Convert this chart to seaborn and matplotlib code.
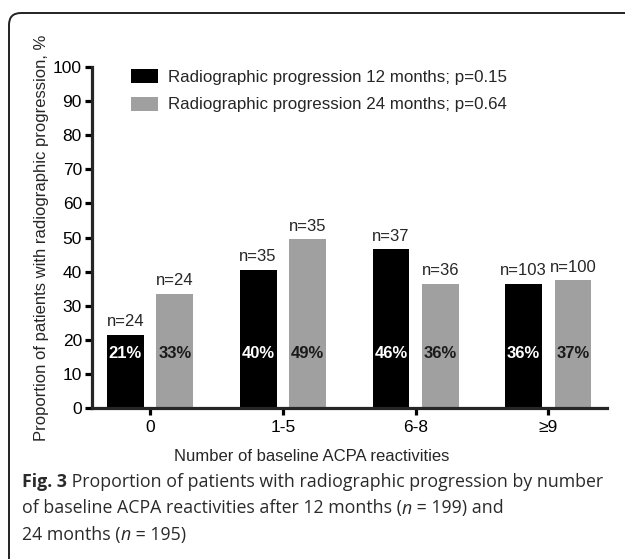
import matplotlib

matplotlib.use("Agg")
import matplotlib.pyplot as plt
import pandas as pd
import seaborn as sns
from matplotlib.patches import FancyBboxPatch
from matplotlib.transforms import IdentityTransform


# Values.
GROUPS = ["0", "1-5", "6-8", "≥9"]
SERIES = [
    "Radiographic progression 12 months; p=0.15",
    "Radiographic progression 24 months; p=0.64",
]
PCT_12 = [21.5, 40.5, 46.5, 36.5]
PCT_24 = [33.5, 49.5, 36.5, 37.5]
N_12 = [24, 35, 37, 103]
N_24 = [24, 35, 36, 100]
PCT_LABELS_12 = ["21%", "40%", "46%", "36%"]
PCT_LABELS_24 = ["33%", "49%", "36%", "37%"]

CAPTION = [
    [("Fig. 3", "bold", "normal"),
     (" Proportion of patients with radiographic progression by number", "normal", "normal")],
    [("of baseline ACPA reactivities after 12 months (", "normal", "normal"),
     ("n", "normal", "italic"),
     (" = 199) and", "normal", "normal")],
    [("24 months (", "normal", "normal"),
     ("n", "normal", "italic"),
     (" = 195)", "normal", "normal")],
]

W, H = 625, 559


def build_frame() -> pd.DataFrame:
    rows = []
    for name, values in zip(SERIES, [PCT_12, PCT_24]):
        for group, value in zip(GROUPS, values):
            rows.append({"group": group, "pct": value, "series": name})
    return pd.DataFrame(rows)


def draw_caption(fig) -> None:
    # Lay the caption out piece by piece so bold/italic runs sit side by side.
    renderer = fig.canvas.get_renderer()
    line_y = [482, 508.5, 535]
    for pieces, y in zip(CAPTION, line_y):
        x = 22
        for text, weight, style in pieces:
            t = fig.text(x / W, 1 - y / H, text, fontsize=12.8, family="Open Sans",
                         weight=weight, style=style, color="#2a2a2a",
                         ha="left", va="center")
            x += t.get_window_extent(renderer).width


def main() -> None:
    sns.set_style("ticks")
    plt.rcParams["font.family"] = ["Liberation Sans", "DejaVu Sans"]

    df = build_frame()

    fig = plt.figure(figsize=(W / 100, H / 100), dpi=100)
    ax = fig.add_axes([91.7 / W, 1 - 408 / H, 515 / W, 341 / H])

    sns.barplot(data=df, x="group", y="pct", hue="series", order=GROUPS,
                palette=["#000000", "#a0a0a0"], saturation=1, width=0.744,
                gap=0.256, linewidth=0, errorbar=None, ax=ax)

    ax.set_xlim(-0.44, 3.44)
    ax.set_ylim(0, 100)
    ax.set_yticks(range(0, 101, 10))
    sns.despine(ax=ax)
    for side in ["left", "bottom"]:
        ax.spines[side].set_linewidth(2.3)
    ax.tick_params(axis="both", length=5, width=2.3, labelsize=12.5, colors="black")
    ax.tick_params(axis="x", pad=4)
    ax.tick_params(axis="y", pad=2)

    ax.set_xlabel("Number of baseline ACPA reactivities", fontsize=12)
    ax.xaxis.set_label_coords(0.427, -0.119)
    ax.set_ylabel("Proportion of patients with radiographic progression, %",
                  fontsize=12, labelpad=3)

    # n= counts above the bars, percentages inside them.
    for container, counts, pct_labels, color in zip(
        ax.containers, [N_12, N_24], [PCT_LABELS_12, PCT_LABELS_24], ["white", "#1a1a1a"]
    ):
        ax.bar_label(container, labels=[f"n={n}" for n in counts], padding=4, fontsize=12)
        for bar, label in zip(container, pct_labels):
            ax.text(bar.get_x() + bar.get_width() / 2, 16, label, ha="center", va="center",
                    fontsize=12, weight="bold", color=color)

    handles, labels = ax.get_legend_handles_labels()
    ax.legend(handles, labels, loc="upper left", bbox_to_anchor=(0.077, 0.993), frameon=False,
              fontsize=12.2, borderpad=0, borderaxespad=0, handlelength=1.57,
              handleheight=0.9, handletextpad=0.62, labelspacing=0.67)

    # Rounded frame of the journal figure box (open at right and bottom).
    frame = FancyBboxPatch((9, -30), 700, H - 13 + 30,
                           boxstyle="round,pad=0,rounding_size=12",
                           transform=IdentityTransform(), facecolor="none",
                           edgecolor="#222222", linewidth=1.4)
    fig.patches.append(frame)

    draw_caption(fig)

    fig.savefig("out.png", dpi=100)
    plt.close(fig)


if __name__ == "__main__":
    main()
